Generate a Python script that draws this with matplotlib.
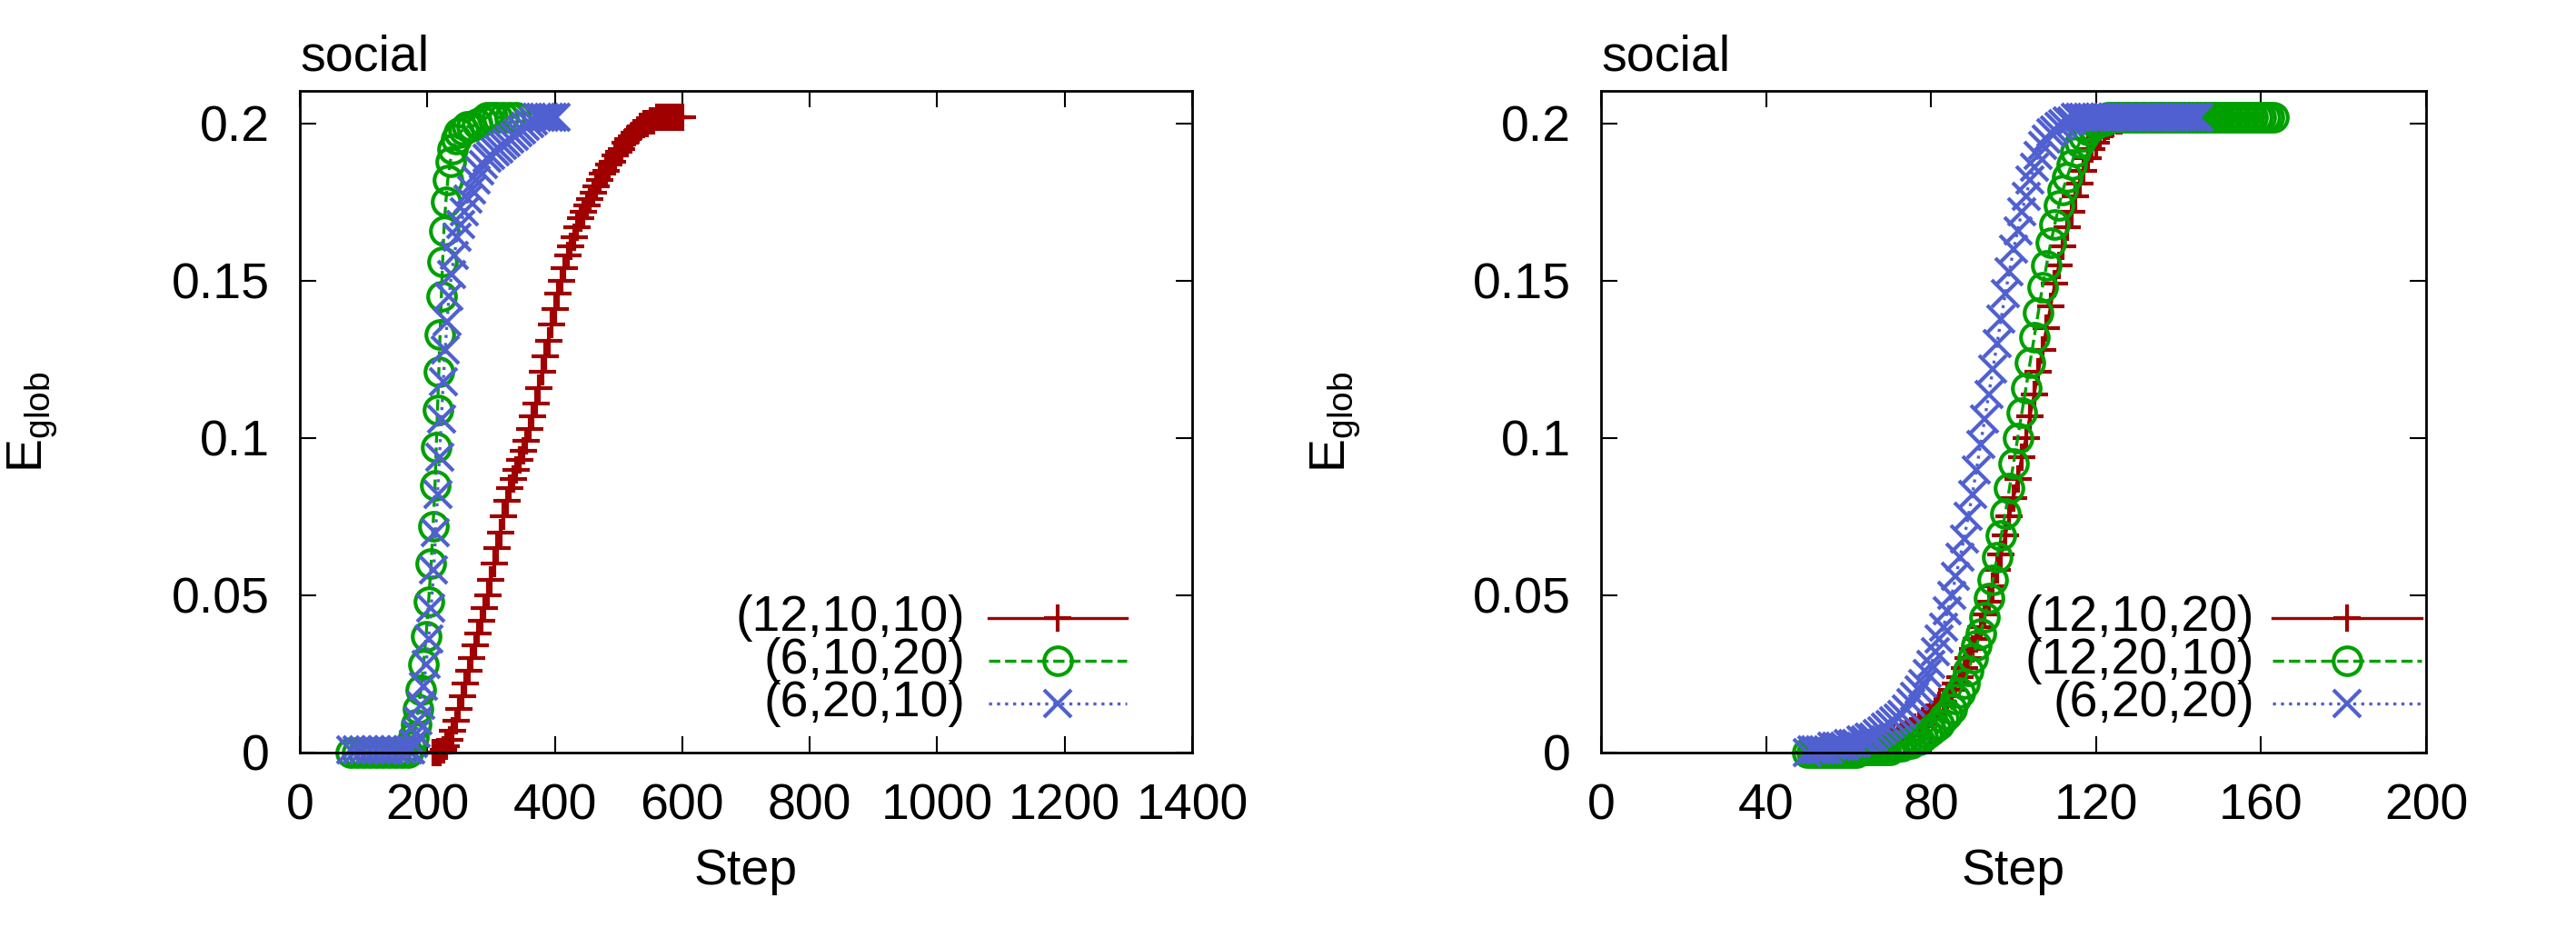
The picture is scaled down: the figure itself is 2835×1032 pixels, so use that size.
import numpy as np
import matplotlib
matplotlib.use("Agg")
import matplotlib.pyplot as plt

plt.rcParams['font.family'] = ['Liberation Sans', 'DejaVu Sans']
plt.rcParams['mathtext.fontset'] = 'custom'
plt.rcParams['mathtext.rm'] = 'Liberation Sans'

# ================== 数据: 左图 ==================
left_labels = ['(12,10,10)', '(6,10,20)', '(6,20,10)']

left_red_x = list(range(210, 605, 5))
left_red_y = [0, 0, 0, 0.001, 0.002, 0.004, 0.007, 0.010,
              0.014, 0.018, 0.022, 0.026, 0.030, 0.034, 0.038, 0.042, 0.046, 0.050,
              0.055, 0.060, 0.065, 0.070, 0.075, 0.080, 0.084, 0.087, 0.090, 0.093,
              0.096, 0.099, 0.103, 0.107, 0.111, 0.116, 0.121, 0.126, 0.131, 0.136,
              0.141, 0.146, 0.150, 0.154, 0.158, 0.161, 0.164, 0.167, 0.170, 0.172,
              0.174, 0.176, 0.178, 0.180, 0.182, 0.184, 0.185, 0.187, 0.188, 0.190,
              0.191, 0.192, 0.194, 0.195, 0.196, 0.197, 0.198, 0.199, 0.200, 0.200,
              0.201, 0.201, 0.202, 0.202, 0.202, 0.202, 0.202, 0.202, 0.202, 0.202,
              0.202]

left_green_x = [80, 90, 100, 110, 120, 130, 140, 150, 160, 170,
                174, 178, 182, 186, 190, 194, 198, 202, 206, 209, 212, 214, 216, 218,
                220, 222, 224, 226, 229, 232, 236, 240, 245, 250, 256, 262, 270, 278,
                286, 294, 302, 310, 320, 330, 340]
left_green_y = [0, 0, 0, 0, 0, 0, 0, 0, 0, 0,
                0.002, 0.005, 0.009, 0.014, 0.020, 0.028, 0.037, 0.048, 0.060, 0.072,
                0.085, 0.097, 0.109, 0.121, 0.133, 0.145, 0.156, 0.166, 0.175, 0.182,
                0.188, 0.192, 0.195, 0.197, 0.198, 0.199, 0.199, 0.200, 0.201, 0.202,
                0.202, 0.202, 0.202, 0.202, 0.202]

left_blue_x = [80, 90, 100, 110, 120, 130, 140, 150, 160, 170,
               174, 178, 182, 186, 190, 194, 198, 202, 206, 210, 213, 216, 219, 222,
               225, 228, 231, 234, 238, 242, 247, 252, 258, 264, 270, 276, 282, 288,
               294, 300, 306, 312, 318, 324, 330, 336, 342, 348, 354, 360, 366, 372,
               378, 384, 390, 396, 402]
left_blue_y = [0.001, 0.001, 0.001, 0.001, 0.001, 0.001, 0.001, 0.001, 0.001, 0.001,
               0.001, 0.003, 0.006, 0.010, 0.015, 0.021, 0.028, 0.036, 0.046, 0.058,
               0.070, 0.082, 0.094, 0.106, 0.118, 0.128, 0.137, 0.145, 0.152, 0.158,
               0.164, 0.168, 0.172, 0.176, 0.179, 0.182, 0.185, 0.187, 0.189, 0.190,
               0.191, 0.192, 0.193, 0.194, 0.195, 0.196, 0.197, 0.198, 0.199, 0.200,
               0.201, 0.202, 0.202, 0.202, 0.202, 0.202, 0.202]

# ================== 数据: 右图 ==================
right_labels = ['(12,10,20)', '(12,20,10)', '(6,20,20)']

right_red_x = list(range(50, 146))
right_red_y = [0, 0, 0, 0, 0, 0, 0.001, 0.001, 0.001, 0.001,
               0.001, 0.001, 0.002, 0.002, 0.002, 0.002, 0.003, 0.003, 0.003, 0.004,
               0.004, 0.005, 0.005, 0.006, 0.006, 0.007, 0.008, 0.009, 0.010, 0.011,
               0.012, 0.013, 0.015, 0.016, 0.018, 0.020, 0.022, 0.024, 0.027, 0.030,
               0.033, 0.036, 0.040, 0.044, 0.048, 0.053, 0.058, 0.063, 0.069, 0.075,
               0.081, 0.087, 0.094, 0.100, 0.107, 0.114, 0.121, 0.128, 0.135, 0.142,
               0.149, 0.155, 0.161, 0.167, 0.172, 0.177, 0.181, 0.185, 0.189, 0.192,
               0.194, 0.196, 0.198, 0.199, 0.200, 0.201, 0.201, 0.202, 0.202, 0.202,
               0.202, 0.202, 0.202, 0.202, 0.202, 0.202, 0.202, 0.202, 0.202, 0.202,
               0.202, 0.202, 0.202, 0.202, 0.202, 0.202]

right_green_x = list(range(50, 164))
right_green_y = [0, 0, 0, 0, 0, 0, 0, 0, 0, 0,
                 0, 0, 0, 0.001, 0.001, 0.001, 0.001, 0.001, 0.001, 0.001,
                 0.001, 0.002, 0.002, 0.002, 0.003, 0.003, 0.004, 0.004, 0.005, 0.006,
                 0.007, 0.008, 0.009, 0.011, 0.012, 0.014, 0.017, 0.019, 0.022, 0.026,
                 0.030, 0.034, 0.038, 0.043, 0.049, 0.055, 0.062, 0.069, 0.076, 0.084,
                 0.092, 0.100, 0.108, 0.116, 0.124, 0.132, 0.140, 0.148, 0.155, 0.162,
                 0.168, 0.174, 0.179, 0.183, 0.187, 0.191, 0.194, 0.196, 0.198, 0.199,
                 0.200, 0.201, 0.201, 0.202, 0.202, 0.202, 0.202, 0.202, 0.202, 0.202,
                 0.202, 0.202, 0.202, 0.202, 0.202, 0.202, 0.202, 0.202, 0.202, 0.202,
                 0.202, 0.202, 0.202, 0.202, 0.202, 0.202, 0.202, 0.202, 0.202, 0.202,
                 0.202, 0.202, 0.202, 0.202, 0.202, 0.202, 0.202, 0.202, 0.202, 0.202,
                 0.202, 0.202, 0.202, 0.202]

right_blue_x = list(range(50, 146))
right_blue_y = [0, 0.001, 0.001, 0.001, 0.001, 0.001, 0.002, 0.002, 0.002, 0.002,
                0.003, 0.003, 0.003, 0.004, 0.004, 0.005, 0.005, 0.006, 0.007, 0.008,
                0.009, 0.010, 0.011, 0.012, 0.014, 0.016, 0.018, 0.020, 0.022, 0.025,
                0.028, 0.032, 0.036, 0.040, 0.045, 0.050, 0.056, 0.062, 0.068, 0.075,
                0.082, 0.090, 0.098, 0.106, 0.114, 0.122, 0.130, 0.138, 0.146, 0.153,
                0.160, 0.166, 0.172, 0.177, 0.182, 0.186, 0.190, 0.193, 0.195, 0.197,
                0.198, 0.199, 0.200, 0.201, 0.201, 0.202, 0.202, 0.202, 0.202, 0.202,
                0.202, 0.202, 0.202, 0.202, 0.202, 0.202, 0.202, 0.202, 0.202, 0.202,
                0.202, 0.202, 0.202, 0.202, 0.202, 0.202, 0.202, 0.202, 0.202, 0.202,
                0.202, 0.202, 0.202, 0.202, 0.202, 0.202]

# ================== 样式 ==================
colors = ['#a00000', '#00a000', '#5060d0']
markers = ['+', 'o', 'x']
linestyles = ['-', '--', ':']
FS = 40
MS = 22

fig = plt.figure(figsize=(28.35, 10.32), dpi=100)
ax1 = fig.add_axes([330 / 2835, 1 - 828 / 1032, 982 / 2835, 728 / 1032])
ax2 = fig.add_axes([1762 / 2835, 1 - 828 / 1032, 908 / 2835, 728 / 1032])


def draw_series(ax, x, y, i):
    mfc = 'none' if markers[i] == 'o' else colors[i]
    ax.plot(x, y, color=colors[i], linestyle=linestyles[i], linewidth=2.4,
            marker=markers[i], markersize=MS, markeredgewidth=3,
            markerfacecolor=mfc, clip_on=False)


def draw_legend(ax, labels, text_x, line_x0, line_x1):
    rows = [0.203, 0.139, 0.074]
    for i, lab in enumerate(labels):
        ax.text(text_x, rows[i], lab, transform=ax.transAxes, ha='right',
                va='center', fontsize=FS)
        ax.plot([line_x0, line_x1], [rows[i], rows[i]], transform=ax.transAxes,
                color=colors[i], linestyle=linestyles[i], linewidth=2.4)
        mfc = 'none' if markers[i] == 'o' else colors[i]
        ax.plot([(line_x0 + line_x1) / 2], [rows[i]], transform=ax.transAxes,
                color=colors[i], marker=markers[i], markersize=MS,
                markeredgewidth=3, markerfacecolor=mfc)


draw_series(ax1, left_red_x, left_red_y, 0)
draw_series(ax1, left_green_x, left_green_y, 1)
draw_series(ax1, left_blue_x, left_blue_y, 2)
draw_legend(ax1, left_labels, 0.746, 0.772, 0.927)

draw_series(ax2, right_red_x, right_red_y, 0)
draw_series(ax2, right_green_x, right_green_y, 1)
draw_series(ax2, right_blue_x, right_blue_y, 2)
draw_legend(ax2, right_labels, 0.792, 0.814, 0.995)

ax1.set_xlim(0, 1400)
ax1.set_xticks(range(0, 1401, 200))
ax2.set_xlim(0, 200)
ax2.set_xticks(range(0, 201, 40))

for ax in (ax1, ax2):
    ax.set_ylim(0, 0.2104)
    ax.set_yticks([0, 0.05, 0.1, 0.15, 0.2])
    ax.set_yticklabels(['0', '0.05', '0.1', '0.15', '0.2'])
    ax.tick_params(direction='in', length=13, width=1.5, top=True, right=True,
                   labelsize=FS, pad=24)
    for s in ax.spines.values():
        s.set_linewidth(2)
    ax.set_xlabel('Step', fontsize=FS, labelpad=14)
    ax.set_ylabel(r'E$_{\mathrm{glob}}$', fontsize=FS)
    ax.text(0, 1.015, 'social', transform=ax.transAxes, ha='left', va='bottom',
            fontsize=FS)

ax1.yaxis.set_label_coords(-0.27, 0.5)
ax2.yaxis.set_label_coords(-0.29, 0.5)

fig.savefig('out.png', dpi=100)
